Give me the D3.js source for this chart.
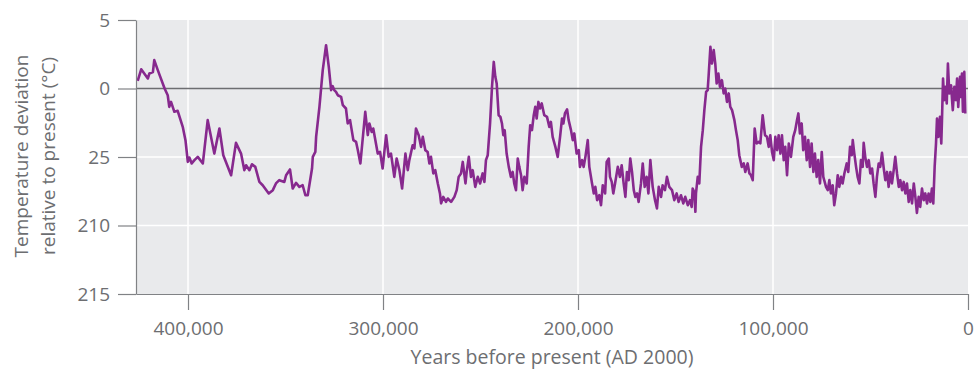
<!DOCTYPE html>
<html lang="en">
<head>
  <meta charset="UTF-8">
  <script src="https://cdn.jsdelivr.net/npm/d3@7"></script>
  <style>
    body { margin: 0; background: #fff; }
    text { font-family: "Open Sans", sans-serif; fill: #6d6e71; }
    .axis path, .axis line { stroke: #808285; stroke-width: 1.2; }
    .axis text { font-size: 19px; }
  </style>
</head>
<body>
<svg></svg>
<script>
// Vostok record: [thousand years before present, deviation in deg C]
var record = [
  [425.8,0.55],[424,1.4],[420.6,0.73],[419.8,1.1],[418,1.2],[417.3,2.07],[415.5,1.34],[412,0],[410.4,-0.49],[409.6,-1.34],
  [408.7,-0.98],[407,-1.7],[405.3,-1.63],[402.7,-2.8],[401.3,-3.77],[400.1,-5.36],[399.3,-5.04],[398.1,-5.47],[396.7,-5.23],[395,-4.99],
  [392.4,-5.47],[389.9,-2.31],[386.5,-4.75],[383.9,-2.92],[381.9,-4.87],[377.9,-6.33],[375.4,-3.97],[372.8,-4.75],[371.1,-5.96],[370.2,-5.6],
  [368.5,-5.96],[367.2,-5.53],[365.5,-5.72],[363.4,-6.82],[361.7,-7.06],[358.6,-7.66],[356.5,-7.42],[354.9,-6.93],[353.2,-6.69],[350.6,-6.82],
  [349.7,-6.33],[347.7,-5.91],[346.3,-7.3],[344.6,-6.89],[342.9,-7.18],[341.2,-7.06],[339.8,-7.79],[338.6,-7.79],[336.4,-5.84],[336,-4.99],
  [334.7,-4.63],[334.3,-3.53],[332.6,-1.34],[330.9,1.34],[329.2,3.16],[327.8,1.58],[326.6,-0.12],[325.8,0.17],[325,-0.12],[324.1,-0.25],
  [323.2,-0.49],[321.5,-0.61],[320.6,-1.22],[319,-1.46],[318.1,-2.55],[316.9,-2.31],[315.2,-3.77],[313.8,-3.9],[312.9,-4.5],[311.6,-5.47],
  [309.1,-1.7],[307.8,-3.4],[307,-2.55],[305.8,-3.17],[305,-2.92],[302.7,-4.75],[301.5,-4.63],[300.2,-5.84],[298.4,-3.41],[297.1,-4.99],
  [295.9,-4.75],[294.2,-6.45],[293,-5.11],[291.6,-5.96],[290.2,-7.3],[288.5,-4.75],[287.3,-5.96],[286.5,-5.23],[284.8,-4.14],[283.9,-4.38],
  [283.1,-2.92],[281.7,-3.41],[280.5,-4.26],[279.6,-3.53],[278.3,-4.5],[277.1,-4.63],[276.2,-5.47],[275.4,-4.99],[274.2,-6.2],[273.2,-5.96],
  [271.9,-6.93],[270.8,-7.66],[270.2,-8.39],[269.1,-7.91],[267.7,-8.28],[266.8,-8.03],[265.1,-8.28],[263.4,-7.91],[262.2,-7.42],[261.2,-6.45],
  [260,-6.2],[259.1,-5.36],[257.7,-6.93],[257.1,-6.09],[256,-4.99],[254.9,-6.45],[254,-5.96],[252.7,-7.18],[251.4,-6.45],[250.2,-6.93],
  [248.9,-6.2],[248,-6.82],[247.2,-5.23],[246.3,-4.87],[245.1,-2.55],[244.1,0.12],[243.2,1.94],[242.4,0.85],[241.7,0.37],[240.7,-1.95],
  [239.8,-2.07],[239,-2.55],[238.3,-3.41],[237.6,-3.04],[236.6,-4.75],[235.5,-5.72],[234.4,-6.45],[233.5,-6.09],[232.7,-6.93],[231.8,-7.42],
  [230.9,-5.11],[230.1,-5.72],[229.2,-6.33],[228.4,-7.42],[227.5,-6.45],[226.3,-6.93],[225.3,-4.26],[224.5,-2.68],[223.6,-3.04],[222.7,-1.95],
  [221.9,-1.34],[221.2,-2.19],[220.3,-0.98],[219.5,-1.46],[218.6,-1.09],[217.3,-1.95],[215.9,-2.07],[214.7,-2.8],[213.9,-2.44],[213,-3.53],
  [211.6,-4.26],[210.4,-4.99],[209.2,-3.53],[208.2,-2.19],[207.5,-2.55],[206.7,-1.82],[205.6,-1.53],[204.8,-2.31],[203.6,-3.04],[202.7,-3.77],
  [201.9,-3.28],[200.7,-4.75],[199.6,-4.5],[199,-5.72],[197.9,-5.23],[197.1,-5.72],[196.2,-4.99],[195,-3.77],[194.2,-5.72],[192.8,-6.93],
  [191.9,-7.66],[191.1,-7.18],[190.2,-8.15],[189.1,-7.79],[188.2,-8.52],[187.3,-7.06],[186.1,-7.66],[185.3,-5.36],[184.2,-5.11],[183.6,-6.45],
  [182.7,-6.82],[181.9,-7.66],[181,-6.93],[179.6,-5.72],[178.5,-6.45],[177.6,-5.6],[176.6,-6.93],[175.7,-7.91],[174.9,-6.09],[174,-6.69],
  [173.2,-5.11],[172.3,-6.09],[171.4,-7.42],[170.6,-7.91],[169.7,-7.66],[168.9,-8.28],[167.7,-6.93],[166.8,-5.47],[165.8,-7.18],[164.8,-6.45],
  [163.9,-7.66],[162.9,-5.23],[161.7,-7.18],[160.5,-8.15],[159.5,-8.76],[158.6,-7.18],[157.4,-7.91],[156.6,-7.06],[155.4,-7.42],[154.4,-6.45],
  [153.2,-7.18],[151.8,-7.42],[150.6,-8.15],[149.4,-7.66],[148.4,-8.28],[147.2,-7.79],[146,-8.39],[145,-7.91],[143.7,-8.52],[142.6,-8.15],
  [141.7,-8.64],[141.2,-7.3],[140.4,-7.55],[139.8,-9.0],[139.5,-7.66],[138.6,-6.45],[137.8,-6.93],[136.9,-4.26],[136,-3.04],[135.2,-1.58],
  [134.3,-0.25],[133.5,-0.12],[133,0.97],[132.1,3.04],[131.3,1.82],[130.4,2.8],[129.6,1.82],[128.9,0.37],[128,1.09],[127.2,0.12],
  [126.2,0.61],[125.3,-0.36],[124.5,0],[123.6,-0.98],[122.7,-0.36],[121.9,-1.34],[121,-1.58],[119.8,-2.31],[119,-3.04],[118.1,-3.77],
  [117.3,-4.87],[116,-5.72],[115,-5.47],[114.2,-6.09],[113,-5.47],[112.1,-6.2],[111.3,-6.33],[110.4,-6.69],[109.4,-2.92],[108.4,-4.01],
  [107.3,-3.9],[106.5,-4.01],[105.3,-1.95],[104.1,-3.41],[103.1,-3.53],[102.2,-4.26],[101.4,-3.41],[100.5,-4.63],[99.6,-5.23],[98.8,-3.53],
  [97.9,-4.5],[97.1,-3.41],[96.2,-4.75],[95.4,-3.41],[94.5,-5.23],[93.7,-4.26],[92.8,-6.33],[91.9,-4.01],[90.8,-4.99],[89.6,-3.53],
  [88.6,-3.04],[87.7,-2.31],[87,-1.82],[86.2,-3.28],[85.3,-2.55],[84.5,-4.5],[83.6,-3.53],[82.7,-5.23],[81.9,-3.77],[81,-5.72],
  [80.2,-4.01],[79.3,-6.09],[78.5,-4.75],[77.6,-6.45],[76.8,-5.23],[75.9,-6.93],[75,-4.63],[74.2,-6.45],[72.8,-7.18],[71.9,-7.42],
  [71.1,-6.69],[70.3,-7.66],[69.4,-7.06],[68.6,-8.52],[67.7,-7.66],[66.8,-6.33],[66,-7.18],[65.1,-6.45],[64.3,-6.93],[63.4,-6.2],
  [62.2,-5.47],[61.4,-6.09],[60.5,-4.26],[59.6,-4.87],[59.1,-3.77],[58.3,-4.75],[57.4,-5.72],[56.6,-6.45],[55.7,-6.93],[54.9,-5.23],
  [54,-5.72],[53.5,-3.97],[52.7,-4.99],[51.8,-5.72],[50.9,-5.23],[50.1,-6.2],[49.2,-5.84],[48.4,-6.93],[47.5,-7.91],[46.7,-6.45],
  [45.8,-5.47],[45,-5.72],[44.1,-4.7],[43.2,-5.84],[42.4,-6.69],[41.5,-6.09],[40.7,-7.18],[39.8,-6.09],[39,-6.93],[38.1,-5.96],
  [37.3,-4.99],[36.4,-6.2],[35.5,-7.18],[34.7,-6.69],[33.8,-7.42],[33,-6.82],[32.1,-7.66],[31.3,-6.93],[30.4,-8.28],[29.6,-7.42],
  [28.7,-8.39],[27.8,-6.93],[27,-7.91],[26.2,-9.08],[25.3,-7.91],[24.5,-8.64],[23.6,-7.3],[22.7,-8.15],[21.9,-7.66],[21,-8.39],
  [20.2,-7.66],[19.3,-8.28],[18.5,-7.3],[17.8,-8.39],[17.1,-5.72],[16.4,-4.01],[15.9,-2.19],[15.2,-3.53],[14.4,-2.07],[13.7,-4.01],
  [13.3,-2.07],[12.8,0.73],[12.2,-0.85],[11.6,0.12],[10.9,-1.09],[10.3,1.82],[9.6,-0.36],[8.7,0.24],[7.8,-1.58],[7,0.12],
  [6.2,-0.85],[5.6,0.73],[5,-1.34],[4.1,0.85],[3.6,-0.61],[3.1,1.09],[2.6,-1.7],[1.9,1.21],[1.4,-1.82]
];

var xTicks = [400000, 300000, 200000, 100000, 0];
var yTicks = [5, 0, -5, -10, -15];
var yTickLabels = ["5", "0", "25", "210", "215"];
var xTitle = "Years before present (AD 2000)";
var yTitle = ["Temperature deviation", "relative to present (°C)"];

var W = 975, H = 372;
var margin = {top: 20, right: 7, bottom: 78, left: 136};
var width = W - margin.left - margin.right,
    height = H - margin.top - margin.bottom;

var svg = d3.select("svg").attr("width", W).attr("height", H);

var x = d3.scaleLinear().domain([426670, 0]).range([0, width]);
var y = d3.scaleLinear().domain([-15, 5]).range([height, 0]);

var g = svg.append("g")
  .attr("transform", "translate(" + margin.left + "," + margin.top + ")");

// plot background
g.append("rect")
  .attr("width", width).attr("height", height)
  .attr("fill", "#e9eaec");

// white grid
g.selectAll(".vgrid")
  .data(xTicks.filter(function(d){ return d > 0; }))
  .enter().append("line")
  .attr("x1", function(d){ return x(d); }).attr("x2", function(d){ return x(d); })
  .attr("y1", 0).attr("y2", height)
  .attr("stroke", "#fff").attr("stroke-width", 1.5);

g.selectAll(".hgrid")
  .data([-5, -10])
  .enter().append("line")
  .attr("x1", 0).attr("x2", width)
  .attr("y1", function(d){ return y(d); }).attr("y2", function(d){ return y(d); })
  .attr("stroke", "#fff").attr("stroke-width", 1.5);

// zero reference
g.append("line")
  .attr("x1", 0).attr("x2", width)
  .attr("y1", y(0)).attr("y2", y(0))
  .attr("stroke", "#6d6e71").attr("stroke-width", 1.5);

var line = d3.line()
  .x(function(d){ return x(d[0] * 1000); })
  .y(function(d){ return y(d[1]); });

g.append("path")
  .datum(record)
  .attr("d", line)
  .attr("fill", "none")
  .attr("stroke", "#87298e")
  .attr("stroke-width", 2.6)
  .attr("stroke-linejoin", "round");

var yAxis = d3.axisLeft(y)
  .tickValues(yTicks)
  .tickSize(18).tickSizeOuter(0).tickPadding(8)
  .tickFormat(function(d, i){ return yTickLabels[i]; });

var xAxis = d3.axisBottom(x)
  .tickValues(xTicks)
  .tickSize(16).tickSizeOuter(0).tickPadding(12)
  .tickFormat(d3.format(","));

g.append("g").attr("class", "axis").call(yAxis);
g.append("g").attr("class", "axis")
  .attr("transform", "translate(0," + height + ")")
  .call(xAxis);

g.selectAll(".axis .domain").attr("stroke", "#808285");

svg.append("text")
  .attr("x", margin.left + width / 2).attr("y", 364)
  .attr("text-anchor", "middle")
  .style("font-size", "19.5px")
  .text(xTitle);

svg.append("text")
  .attr("transform", "translate(0,156) rotate(-90)")
  .attr("text-anchor", "middle")
  .style("font-size", "19px")
  .selectAll("tspan")
  .data(yTitle)
  .enter().append("tspan")
  .attr("x", 0)
  .attr("y", function(d, i){ return 28 + i * 27; })
  .text(function(d){ return d; });
</script>
</body>
</html>
